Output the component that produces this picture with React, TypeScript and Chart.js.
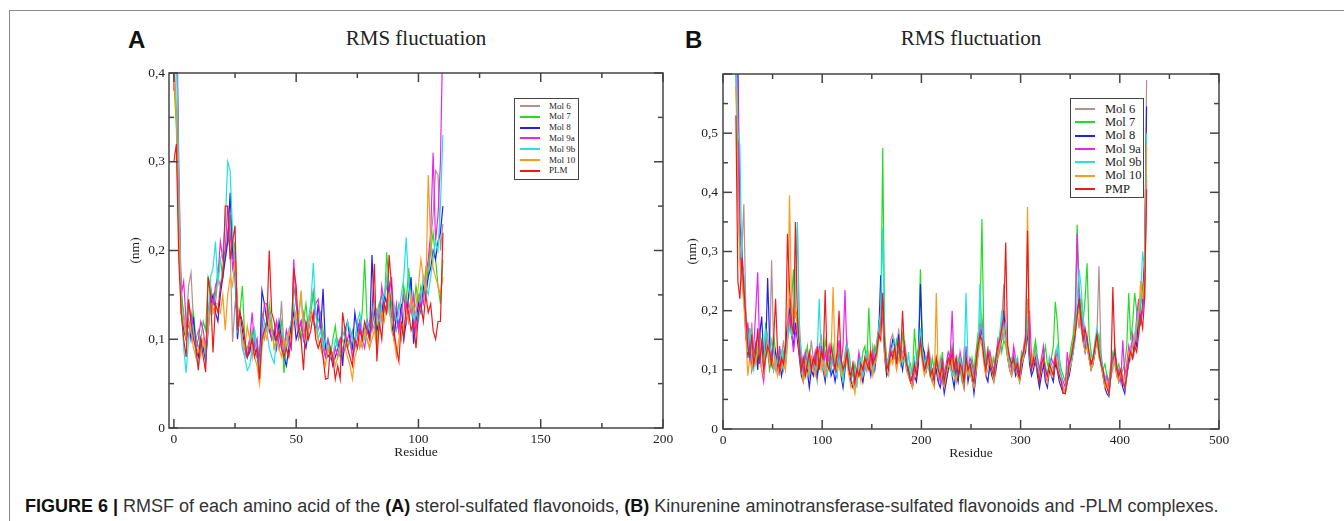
import React, { useEffect, useRef } from "react";
import { Chart, registerables } from "chart.js";

Chart.register(...registerables);

// ---------- categories / labels ----------
const seriesLabelsA = ["Mol 6", "Mol 7", "Mol 8", "Mol 9a", "Mol 9b", "Mol 10", "PLM"];
const seriesLabelsB = ["Mol 6", "Mol 7", "Mol 8", "Mol 9a", "Mol 9b", "Mol 10", "PMP"];
const seriesColors = ["#b48f8f", "#22dd22", "#2222ee", "#ee22ee", "#22e2e2", "#ff991a", "#ee1a1a"];

// residue numbers (x categories)
const residuesA = Array.from({ length: 111 }, (_, i) => i);
const residuesB = Array.from({ length: 208 }, (_, i) => 13 + 2 * i);

// tick values
const xMajorA = [0, 50, 100, 150, 200];
const xMinorA = [25, 75, 125, 175];
const yMajorA = [0, 0.1, 0.2, 0.3, 0.4];
const yMinorA = [0.05, 0.15, 0.25, 0.35];
const xMajorB = [0, 100, 200, 300, 400, 500];
const xMinorB = [50, 150, 250, 350, 450];
const yMajorB = [0, 0.1, 0.2, 0.3, 0.4, 0.5, 0.6];
const yMinorB = [0.05, 0.15, 0.25, 0.35, 0.45, 0.55];

// ---------- panel A series (nm), residues 0..110 ----------
const mol6A = [
  .42, .36, .24, .15, .13, .11, .16, .175, .12, .10,
  .11, .09, .10, .08, .12, .16, .13, .14, .17, .16,
  .18, .19, .22, .20, .097, .14, .13, .12, .09, .08,
  .09, .10, .08, .11, .09, .05, .11, .10, .12, .13,
  .11, .10, .12, .10, .143, .09, .11, .10, .09, .14,
  .12, .10, .11, .13, .11, .12, .14, .155, .13, .11,
  .12, .10, .08, .09, .08, .085, .09, .10, .09, .08,
  .09, .10, .095, .08, .10, .11, .09, .10, .11, .10,
  .09, .12, .11, .13, .14, .12, .15, .16, .14, .12,
  .13, .11, .12, .10, .13, .15, .12, .14, .11, .13,
  .15, .14, .17, .16, .18, .21, .24, .29, .285, .20,
  .23,
];
const mol7A = [
  .39, .34, .22, .16, .12, .10, .14, .12, .13, .10,
  .09, .10, .12, .11, .17, .16, .14, .15, .18, .19,
  .17, .20, .21, .24, .19, .21, .12, .13, .16, .10,
  .08, .09, .11, .09, .10, .07, .13, .12, .11, .14,
  .12, .09, .10, .11, .12, .062, .09, .10, .11, .16,
  .14, .12, .10, .12, .14, .11, .13, .15, .13, .12,
  .13, .11, .09, .10, .08, .10, .115, .09, .08, .09,
  .10, .09, .10, .11, .095, .12, .11, .13, .19, .12,
  .11, .13, .12, .10, .14, .15, .13, .198, .16, .14,
  .11, .12, .14, .13, .16, .14, .18, .15, .13, .16,
  .14, .16, .15, .18, .17, .20, .22, .19, .16, .14,
  .19,
];
const mol8A = [
  .40, .48, .26, .13, .11, .10, .12, .10, .125, .09,
  .08, .10, .09, .075, .11, .14, .15, .13, .12, .15,
  .17, .19, .21, .265, .20, .17, .10, .13, .11, .09,
  .08, .085, .10, .09, .08, .07, .155, .14, .12, .11,
  .10, .11, .09, .12, .10, .08, .07, .09, .12, .13,
  .10, .11, .12, .10, .09, .11, .13, .12, .11, .14,
  .11, .157, .09, .08, .085, .07, .08, .09, .10, .07,
  .11, .12, .10, .09, .13, .11, .12, .10, .11, .12,
  .10, .195, .13, .11, .12, .13, .15, .14, .16, .12,
  .10, .13, .11, .14, .10, .12, .15, .17, .095, .12,
  .14, .13, .16, .15, .17, .18, .20, .19, .21, .22,
  .25,
];
const mol9aA = [
  .38, .50, .30, .15, .165, .12, .10, .13, .11, .09,
  .10, .12, .11, .09, .13, .15, .14, .16, .17, .21,
  .19, .20, .25, .22, .18, .20, .13, .12, .10, .09,
  .08, .10, .13, .09, .10, .07, .11, .14, .14, .12,
  .10, .11, .12, .09, .10, .08, .11, .10, .09, .19,
  .14, .11, .12, .10, .12, .11, .13, .12, .14, .145,
  .12, .09, .08, .10, .09, .075, .09, .08, .10, .085,
  .09, .10, .11, .08, .09, .10, .12, .10, .09, .11,
  .12, .11, .14, .13, .12, .16, .14, .13, .15, .17,
  .12, .14, .11, .13, .15, .12, .14, .13, .15, .11,
  .13, .15, .14, .17, .19, .22, .31, .21, .24, .30,
  .45,
];
const mol9bA = [
  .41, .45, .28, .14, .09, .062, .10, .12, .11, .08,
  .07, .09, .10, .08, .12, .17, .18, .21, .16, .19,
  .20, .23, .30, .29, .22, .18, .11, .12, .10, .08,
  .065, .07, .09, .11, .08, .07, .10, .12, .11, .09,
  .08, .073, .10, .11, .09, .08, .10, .11, .12, .14,
  .12, .13, .15, .11, .10, .12, .14, .186, .13, .10,
  .11, .09, .10, .085, .09, .08, .10, .09, .085, .11,
  .10, .12, .11, .10, .09, .12, .13, .11, .10, .12,
  .11, .12, .14, .13, .11, .14, .15, .17, .13, .12,
  .14, .12, .13, .15, .17, .215, .16, .14, .12, .13,
  .12, .14, .17, .16, .15, .17, .19, .21, .20, .25,
  .33,
];
const mol10A = [
  .40, .35, .23, .13, .12, .10, .12, .11, .09, .08,
  .09, .08, .10, .09, .11, .14, .13, .14, .14, .13,
  .15, .11, .15, .17, .16, .19, .14, .12, .10, .09,
  .115, .10, .09, .08, .07, .05, .09, .11, .10, .12,
  .11, .09, .10, .09, .08, .10, .09, .11, .10, .12,
  .13, .12, .155, .11, .10, .11, .13, .12, .11, .10,
  .09, .08, .07, .09, .08, .085, .07, .08, .09, .10,
  .09, .08, .07, .055, .08, .09, .10, .09, .11, .10,
  .09, .10, .11, .09, .12, .13, .12, .14, .15, .11,
  .10, .08, .10, .12, .11, .13, .12, .15, .13, .14,
  .16, .19, .17, .15, .285, .21, .18, .17, .16, .15,
  .17,
];
const plmA = [
  .30, .32, .19, .13, .10, .08, .145, .12, .10, .09,
  .065, .10, .08, .063, .17, .15, .085, .14, .13, .16,
  .17, .25, .25, .19, .21, .228, .11, .13, .12, .10,
  .08, .09, .10, .08, .09, .055, .10, .11, .12, .20,
  .13, .12, .10, .11, .09, .08, .09, .08, .10, .18,
  .16, .11, .10, .065, .12, .10, .11, .13, .10, .09,
  .10, .08, .055, .056, .09, .08, .055, .07, .055, .13,
  .11, .09, .08, .07, .10, .09, .11, .10, .12, .11,
  .10, .13, .185, .075, .12, .10, .14, .13, .195, .16,
  .11, .09, .075, .12, .10, .14, .13, .11, .12, .09,
  .13, .14, .12, .15, .13, .14, .11, .10, .12, .12,
  .22,
];

// ---------- panel B series (nm), residues 13..427 step 2 ----------
const mol6B = [
  .60, .45, .32, .30, .38, .20, .16, .13, .18, .12,
  .15, .11, .17, .13, .10, .14, .16, .12, .285, .14,
  .11, .13, .09, .12, .15, .11, .17, .22, .19, .16,
  .21, .34, .18, .12, .10, .13, .09, .11, .15, .12,
  .10, .08, .13, .16, .11, .09, .12, .14, .10, .13,
  .11, .09, .14, .12, .10, .13, .15, .11, .08, .10,
  .07, .09, .12, .10, .08, .11, .13, .12, .10, .14,
  .12, .15, .17, .19, .22, .13, .10, .12, .15, .16,
  .14, .12, .17, .13, .11, .15, .12, .10, .09, .08,
  .10, .09, .12, .15, .13, .11, .10, .14, .12, .09,
  .11, .10, .08, .12, .10, .07, .09, .11, .13, .10,
  .09, .11, .08, .12, .10, .07, .13, .09, .11, .10,
  .08, .12, .15, .17, .19, .13, .11, .14, .10, .12,
  .09, .11, .13, .15, .18, .245, .17, .14, .12, .11,
  .13, .10, .12, .09, .11, .14, .16, .22, .13, .10,
  .12, .14, .10, .09, .11, .13, .10, .08, .12, .11,
  .10, .13, .11, .09, .08, .07, .065, .09, .11, .13,
  .15, .18, .20, .17, .22, .19, .14, .16, .13, .11,
  .12, .14, .16, .275, .13, .10, .09, .08, .07, .10,
  .12, .14, .11, .09, .10, .08, .07, .10, .12, .14,
  .15, .13, .17, .16, .21, .24, .28, .59,
];
const mol7B = [
  .62, .40, .30, .26, .22, .18, .14, .17, .13, .11,
  .14, .12, .16, .15, .11, .18, .13, .10, .12, .16,
  .13, .11, .14, .10, .13, .12, .15, .18, .21, .27,
  .19, .20, .15, .11, .09, .12, .14, .10, .12, .11,
  .13, .10, .12, .14, .11, .15, .13, .12, .10, .14,
  .12, .10, .13, .11, .09, .12, .14, .13, .10, .09,
  .11, .09, .12, .10, .13, .14, .11, .205, .12, .10,
  .14, .13, .18, .17, .475, .16, .12, .10, .14, .13,
  .12, .15, .13, .11, .16, .14, .12, .10, .11, .09,
  .17, .12, .14, .27, .15, .12, .10, .11, .09, .12,
  .10, .12, .11, .09, .13, .10, .08, .10, .12, .14,
  .11, .09, .12, .10, .08, .13, .11, .10, .09, .12,
  .10, .13, .16, .18, .355, .15, .12, .11, .13, .10,
  .12, .10, .14, .16, .13, .15, .14, .12, .11, .10,
  .12, .11, .09, .10, .13, .12, .14, .16, .12, .11,
  .13, .15, .12, .10, .11, .12, .14, .11, .10, .12,
  .14, .215, .18, .12, .10, .09, .08, .10, .12, .14,
  .16, .20, .345, .24, .20, .18, .22, .28, .16, .13,
  .11, .13, .15, .16, .12, .10, .11, .09, .08, .11,
  .13, .12, .10, .11, .09, .10, .11, .14, .23, .15,
  .18, .23, .20, .17, .21, .24, .22, .43,
];
const mol8B = [
  .65, .62, .35, .30, .25, .17, .12, .15, .10, .12,
  .14, .10, .16, .19, .12, .13, .255, .15, .11, .10,
  .13, .10, .12, .09, .11, .14, .18, .20, .16, .14,
  .18, .15, .12, .09, .08, .11, .10, .07, .10, .09,
  .12, .09, .11, .14, .10, .08, .11, .12, .09, .10,
  .08, .10, .12, .09, .07, .10, .13, .10, .08, .07,
  .09, .08, .10, .09, .08, .10, .12, .11, .09, .12,
  .10, .13, .16, .26, .19, .12, .09, .10, .13, .15,
  .14, .11, .16, .12, .10, .13, .11, .09, .08, .07,
  .09, .08, .11, .245, .14, .13, .10, .12, .10, .08,
  .09, .10, .08, .07, .09, .06, .08, .10, .12, .09,
  .07, .10, .08, .11, .09, .07, .12, .08, .10, .09,
  .06, .09, .13, .15, .17, .12, .09, .08, .11, .09,
  .08, .10, .12, .14, .15, .20, .16, .12, .10, .09,
  .11, .09, .10, .08, .10, .12, .13, .17, .11, .09,
  .10, .12, .09, .07, .09, .11, .08, .07, .10, .09,
  .08, .11, .10, .08, .07, .06, .06, .08, .09, .11,
  .13, .16, .20, .22, .18, .15, .13, .15, .12, .10,
  .11, .13, .16, .14, .11, .09, .07, .06, .055, .09,
  .11, .13, .10, .08, .09, .07, .06, .09, .11, .13,
  .12, .15, .14, .20, .18, .21, .29, .545,
];
const mol9aB = [
  .68, .58, .30, .26, .23, .15, .18, .14, .11, .14,
  .20, .265, .13, .10, .08, .12, .15, .11, .13, .10,
  .12, .09, .14, .11, .10, .12, .16, .19, .17, .13,
  .16, .18, .14, .12, .10, .13, .11, .09, .12, .10,
  .13, .11, .14, .12, .10, .13, .11, .14, .12, .11,
  .10, .12, .15, .11, .14, .235, .12, .10, .09, .11,
  .08, .10, .13, .11, .09, .12, .10, .12, .11, .13,
  .11, .14, .15, .18, .22, .14, .11, .12, .14, .12,
  .13, .10, .15, .12, .12, .14, .11, .10, .09, .08,
  .10, .11, .13, .16, .12, .10, .12, .13, .11, .10,
  .09, .11, .10, .08, .12, .09, .11, .13, .12, .20,
  .10, .12, .09, .13, .11, .08, .14, .10, .12, .11,
  .09, .11, .14, .16, .18, .14, .10, .12, .13, .11,
  .10, .12, .15, .13, .16, .18, .15, .13, .12, .10,
  .14, .12, .10, .09, .12, .13, .15, .16, .20, .12,
  .11, .13, .12, .10, .12, .14, .09, .08, .11, .12,
  .11, .12, .13, .10, .09, .08, .07, .13, .10, .12,
  .14, .17, .33, .21, .19, .17, .15, .14, .12, .11,
  .12, .14, .15, .13, .12, .10, .08, .09, .07, .10,
  .12, .11, .09, .10, .08, .15, .09, .11, .14, .12,
  .16, .14, .19, .22, .18, .20, .24, .42,
];
const mol9bB = [
  .63, .50, .48, .28, .26, .19, .13, .17, .12, .10,
  .13, .16, .12, .14, .11, .17, .14, .12, .15, .13,
  .10, .12, .11, .13, .10, .12, .15, .17, .16, .20,
  .22, .35, .16, .13, .11, .10, .12, .09, .11, .10,
  .11, .13, .22, .12, .10, .11, .09, .12, .10, .13,
  .10, .09, .12, .10, .08, .11, .14, .12, .09, .10,
  .10, .07, .11, .12, .09, .10, .13, .12, .11, .10,
  .12, .14, .17, .20, .34, .15, .11, .12, .13, .14,
  .15, .12, .14, .13, .11, .12, .10, .13, .09, .10,
  .12, .10, .13, .17, .13, .11, .12, .10, .11, .09,
  .10, .12, .09, .11, .10, .08, .10, .12, .11, .09,
  .10, .08, .11, .12, .09, .10, .23, .11, .09, .10,
  .08, .10, .13, .245, .17, .13, .10, .12, .11, .10,
  .09, .12, .14, .16, .20, .15, .18, .13, .11, .12,
  .10, .12, .11, .10, .11, .13, .14, .19, .12, .10,
  .12, .13, .11, .09, .10, .12, .11, .09, .12, .10,
  .09, .12, .14, .11, .09, .07, .06, .08, .10, .11,
  .13, .15, .22, .27, .24, .19, .16, .14, .12, .13,
  .12, .15, .17, .14, .12, .10, .09, .08, .06, .09,
  .11, .12, .10, .09, .10, .08, .07, .09, .12, .13,
  .14, .16, .18, .20, .22, .30, .27, .50,
];
const mol10B = [
  .58, .40, .28, .25, .21, .16, .09, .12, .10, .13,
  .11, .14, .12, .10, .09, .13, .15, .11, .12, .10,
  .12, .09, .11, .10, .12, .10, .14, .395, .22, .18,
  .20, .17, .13, .10, .08, .11, .09, .10, .12, .10,
  .09, .11, .13, .10, .12, .09, .11, .10, .13, .24,
  .12, .10, .11, .09, .10, .12, .11, .09, .07, .08,
  .06, .09, .10, .08, .11, .12, .10, .13, .11, .09,
  .11, .12, .15, .17, .21, .12, .10, .09, .12, .11,
  .13, .10, .12, .11, .13, .12, .10, .09, .08, .07,
  .09, .10, .12, .14, .11, .09, .10, .12, .10, .08,
  .07, .23, .09, .10, .08, .07, .09, .11, .10, .12,
  .09, .08, .10, .11, .09, .07, .11, .09, .10, .08,
  .07, .10, .12, .15, .14, .11, .09, .10, .12, .10,
  .08, .11, .12, .14, .16, .17, .15, .12, .10, .09,
  .11, .10, .09, .08, .11, .12, .14, .375, .14, .11,
  .13, .11, .10, .09, .10, .12, .10, .08, .11, .09,
  .10, .12, .11, .09, .08, .07, .06, .09, .10, .12,
  .14, .17, .19, .20, .17, .15, .13, .14, .12, .10,
  .11, .13, .15, .12, .11, .09, .07, .08, .06, .09,
  .10, .12, .09, .08, .10, .09, .07, .10, .13, .12,
  .14, .15, .17, .19, .25, .22, .26, .48,
];
const pmpB = [
  .53, .25, .22, .29, .24, .19, .14, .12, .16, .11,
  .13, .17, .11, .15, .10, .12, .14, .13, .11, .15,
  .22, .13, .10, .12, .11, .14, .33, .24, .18, .16,
  .35, .19, .13, .10, .12, .09, .11, .13, .10, .12,
  .11, .14, .10, .13, .12, .235, .11, .10, .14, .12,
  .10, .13, .20, .12, .10, .11, .13, .10, .09, .11,
  .08, .10, .09, .11, .10, .12, .11, .10, .13, .11,
  .12, .13, .16, .15, .23, .14, .10, .11, .13, .12,
  .14, .11, .15, .12, .20, .13, .11, .10, .08, .09,
  .11, .09, .12, .15, .12, .10, .11, .13, .09, .10,
  .08, .12, .10, .09, .11, .08, .10, .12, .11, .13,
  .10, .12, .09, .11, .10, .08, .12, .10, .11, .09,
  .08, .11, .14, .16, .15, .12, .10, .13, .11, .10,
  .09, .12, .14, .15, .17, .19, .315, .14, .12, .11,
  .12, .10, .11, .09, .12, .13, .15, .335, .13, .10,
  .12, .11, .10, .08, .11, .12, .10, .09, .11, .10,
  .09, .12, .10, .09, .08, .06, .06, .08, .11, .12,
  .14, .16, .19, .22, .18, .15, .17, .15, .13, .11,
  .12, .14, .16, .13, .11, .10, .08, .07, .06, .09,
  .24, .13, .10, .09, .10, .08, .07, .09, .12, .13,
  .12, .14, .13, .16, .19, .17, .22, .405,
];

const seriesA = [mol6A, mol7A, mol8A, mol9aA, mol9bA, mol10A, plmA];
const seriesB = [mol6B, mol7B, mol8B, mol9aB, mol9bB, mol10B, pmpB];

// ---------- styling ----------
const SERIF = '"Liberation Serif", "Times New Roman", serif';
const SANS = '"Liberation Sans", Arial, Helvetica, sans-serif';
const INK = "#222";
const FRAME = "#444";

const framePlugin = {
  id: "frame",
  afterDatasetsDraw(chart: any, _args: any, opts: any) {
    const { ctx, chartArea } = chart;
    const { left, right, top, bottom } = chartArea;
    const xs = chart.scales.x;
    const ys = chart.scales.y;
    ctx.save();
    ctx.strokeStyle = FRAME;
    ctx.lineWidth = 1.5;
    ctx.strokeRect(left, top, right - left, bottom - top);
    const seg = (x1: number, y1: number, x2: number, y2: number) => {
      ctx.beginPath();
      ctx.moveTo(x1, y1);
      ctx.lineTo(x2, y2);
      ctx.stroke();
    };
    const xt = (vals: number[], len: number) =>
      vals.forEach((v) => {
        const p = xs.getPixelForValue(v);
        seg(p, bottom, p, bottom - len);
        seg(p, top, p, top + len);
      });
    const yt = (vals: number[], len: number) =>
      vals.forEach((v) => {
        const p = ys.getPixelForValue(v);
        seg(left, p, left + len, p);
        seg(right, p, right - len, p);
      });
    xt(opts.xMajor, 9);
    xt(opts.xMinor, 5);
    yt(opts.yMajor, 9);
    yt(opts.yMinor, 5);
    ctx.restore();
  },
};

type PanelCfg = {
  residues: number[];
  series: number[][];
  labels: string[];
  xMin: number;
  xMax: number;
  yMax: number;
  hideTopLabel: boolean;
  xMajor: number[];
  xMinor: number[];
  yMajor: number[];
  yMinor: number[];
  left: number;
  top: number;
  width: number;
  height: number;
  padTop: number;
  padRight: number;
  yAxisWidth: number;
  yTitlePad: number;
  yLabelPad: number;
};

const fmtY = (v: number, cfg: PanelCfg) => {
  if (v === 0) return "0";
  if (cfg.hideTopLabel && v > cfg.yMax - 0.05) return "";
  return v.toFixed(1).replace(".", ",");
};

function RmsfPanel({ cfg }: { cfg: PanelCfg }) {
  const ref = useRef<HTMLCanvasElement>(null);
  useEffect(() => {
    if (!ref.current) return;
    const chart = new Chart(ref.current, {
      type: "line",
      data: {
        datasets: cfg.series.map((vals, i) => ({
          label: cfg.labels[i],
          data: vals.map((v, k) => ({ x: cfg.residues[k], y: v })),
          borderColor: seriesColors[i],
          backgroundColor: seriesColors[i],
          borderWidth: 1.2,
          pointRadius: 0,
          fill: false,
          tension: 0,
          order: cfg.series.length - i,
        })),
      },
      options: {
        animation: false,
        responsive: false,
        maintainAspectRatio: false,
        events: [],
        layout: { padding: { top: cfg.padTop, right: cfg.padRight, left: 0, bottom: 0 } },
        plugins: {
          legend: { display: false },
          tooltip: { enabled: false },
          title: { display: false },
          // @ts-ignore
          frame: { xMajor: cfg.xMajor, xMinor: cfg.xMinor, yMajor: cfg.yMajor, yMinor: cfg.yMinor },
        },
        scales: {
          x: {
            type: "linear",
            min: cfg.xMin,
            max: cfg.xMax,
            grid: { display: false, drawTicks: false },
            border: { display: false },
            afterBuildTicks: (s: any) => {
              s.ticks = cfg.xMajor.map((v) => ({ value: v }));
            },
            afterFit: (s: any) => {
              s.height = 35;
            },
            ticks: {
              autoSkip: false,
              maxRotation: 0,
              padding: 3,
              color: INK,
              font: { family: SERIF, size: 13.5 },
              callback: (v: any) => String(v),
            },
            title: {
              display: true,
              text: "Residue",
              color: INK,
              font: { family: SERIF, size: 13.5 },
              padding: { top: 0, bottom: 2 },
            },
          },
          y: {
            type: "linear",
            min: 0,
            max: cfg.yMax,
            grid: { display: false, drawTicks: false },
            border: { display: false },
            afterBuildTicks: (s: any) => {
              s.ticks = cfg.yMajor.map((v) => ({ value: v }));
            },
            afterFit: (s: any) => {
              s.width = cfg.yAxisWidth;
            },
            ticks: {
              autoSkip: false,
              padding: cfg.yLabelPad,
              color: INK,
              font: { family: SERIF, size: 13.5 },
              callback: (v: any) => fmtY(Number(v), cfg),
            },
            title: {
              display: true,
              text: "(nm)",
              color: INK,
              font: { family: SERIF, size: 13.5 },
              padding: { top: cfg.yTitlePad, bottom: 0 },
            },
          },
        },
      },
      plugins: [framePlugin as any],
    });
    return () => chart.destroy();
  }, [cfg]);
  return (
    <canvas
      ref={ref}
      width={cfg.width}
      height={cfg.height}
      style={{ position: "absolute", left: cfg.left, top: cfg.top, width: cfg.width, height: cfg.height }}
    />
  );
}

const panelA: PanelCfg = {
  residues: residuesA,
  series: seriesA,
  labels: seriesLabelsA,
  xMin: -2,
  xMax: 200,
  yMax: 0.4,
  hideTopLabel: false,
  xMajor: xMajorA,
  xMinor: xMinorA,
  yMajor: yMajorA,
  yMinor: yMinorA,
  left: 120,
  top: 60,
  width: 560,
  height: 403,
  padTop: 13,
  padRight: 17,
  yAxisWidth: 49,
  yTitlePad: 7,
  yLabelPad: 4,
};

const panelB: PanelCfg = {
  residues: residuesB,
  series: seriesB,
  labels: seriesLabelsB,
  xMin: 0,
  xMax: 500,
  yMax: 0.6,
  hideTopLabel: true,
  xMajor: xMajorB,
  xMinor: xMinorB,
  yMajor: yMajorB,
  yMinor: yMinorB,
  left: 680,
  top: 60,
  width: 560,
  height: 404,
  padTop: 14,
  padRight: 21,
  yAxisWidth: 43,
  yTitlePad: 4,
  yLabelPad: 5,
};

function Legend({
  labels,
  box,
  lineX,
  lineW,
  textX,
  rowY0,
  rowStep,
  fontSize,
}: {
  labels: string[];
  box: { left: number; top: number; width: number; height: number };
  lineX: number;
  lineW: number;
  textX: number;
  rowY0: number;
  rowStep: number;
  fontSize: number;
}) {
  return (
    <>
      <div
        style={{
          position: "absolute",
          left: box.left,
          top: box.top,
          width: box.width,
          height: box.height,
          border: `1.5px solid ${FRAME}`,
          boxSizing: "border-box",
          background: "#fff",
        }}
      />
      {labels.map((l, i) => {
        const cy = rowY0 + i * rowStep;
        return (
          <React.Fragment key={l}>
            <div
              style={{
                position: "absolute",
                left: lineX,
                top: Math.round(cy - 1),
                width: lineW,
                height: 2,
                background: seriesColors[i],
              }}
            />
            <div
              style={{
                position: "absolute",
                left: textX,
                top: cy - fontSize / 2,
                height: fontSize,
                lineHeight: `${fontSize}px`,
                fontFamily: SERIF,
                fontSize,
                color: INK,
                whiteSpace: "nowrap",
              }}
            >
              {l}
            </div>
          </React.Fragment>
        );
      })}
    </>
  );
}

const abs = (left: number, top: number, extra: React.CSSProperties = {}): React.CSSProperties => ({
  position: "absolute",
  left,
  top,
  whiteSpace: "nowrap",
  ...extra,
});

export default function App() {
  useEffect(() => {
    document.body.style.margin = "0";
  }, []);
  return (
    <div
      style={{
        position: "absolute",
        left: 0,
        top: 0,
        width: 1344,
        height: 521,
        background: "#fff",
        overflow: "hidden",
      }}
    >
      {/* figure frame */}
      <div
        style={{
          position: "absolute",
          left: 9,
          top: 10,
          width: 1400,
          height: 600,
          borderTop: "1.5px solid #8a8a8a",
          borderLeft: "1.5px solid #8a8a8a",
        }}
      />

      {/* panel letters */}
      <div style={abs(128, 28, { fontFamily: SANS, fontWeight: 700, fontSize: 24, lineHeight: "24px", color: "#111" })}>A</div>
      <div style={abs(685, 28, { fontFamily: SANS, fontWeight: 700, fontSize: 24, lineHeight: "24px", color: "#111" })}>B</div>

      {/* panel titles */}
      <div style={abs(316, 28, { width: 200, textAlign: "center", fontFamily: SERIF, fontSize: 21, lineHeight: "21px", color: INK })}>
        RMS fluctuation
      </div>
      <div style={abs(871, 28, { width: 200, textAlign: "center", fontFamily: SERIF, fontSize: 21, lineHeight: "21px", color: INK })}>
        RMS fluctuation
      </div>

      <RmsfPanel cfg={panelA} />
      <RmsfPanel cfg={panelB} />

      <Legend
        labels={seriesLabelsA}
        box={{ left: 514, top: 98, width: 65, height: 82 }}
        lineX={520}
        lineW={20}
        textX={549}
        rowY0={106}
        rowStep={10.83}
        fontSize={9}
      />
      <Legend
        labels={seriesLabelsB}
        box={{ left: 1070, top: 98, width: 74, height: 100 }}
        lineX={1075}
        lineW={20}
        textX={1105}
        rowY0={109}
        rowStep={13.33}
        fontSize={12.5}
      />

      {/* caption */}
      <div style={abs(25, 497, { fontFamily: SANS, fontSize: 18, lineHeight: "18px", color: "#333" })}>
        <span style={{ fontWeight: 700, color: "#111" }}>FIGURE 6 | </span>
        RMSF of each amino acid of the <span style={{ fontWeight: 700, color: "#111" }}>(A)</span> sterol-sulfated
        flavonoids, <span style={{ fontWeight: 700, color: "#111" }}>(B)</span> Kinurenine aminotransferase-sulfated
        flavonoids and -PLM complexes.
      </div>
    </div>
  );
}
